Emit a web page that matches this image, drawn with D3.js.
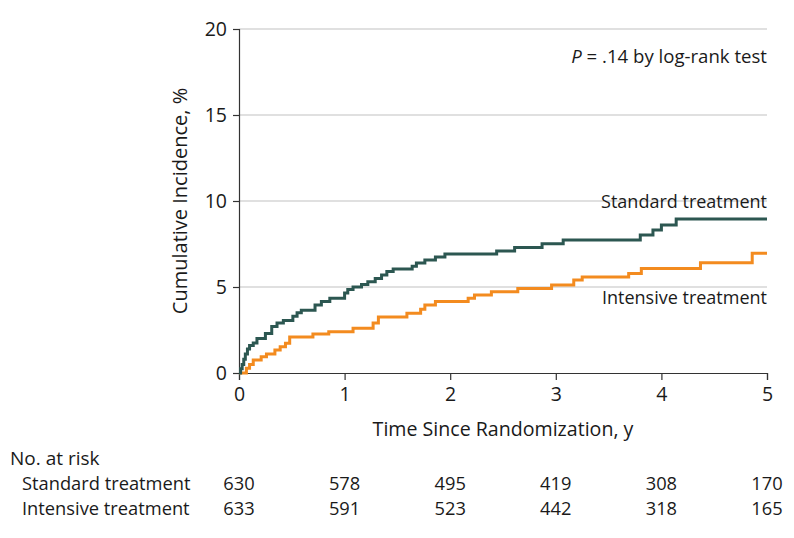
<!DOCTYPE html>
<html>
<head>
<meta charset="utf-8">
<script src="https://cdn.jsdelivr.net/npm/d3@7"></script>
<style>
  body { margin: 0; background: #fff; }
  svg text { font-family: "Open Sans", "Noto Sans", sans-serif; fill: #1a1a1a; }
</style>
</head>
<body>
<script>
// step points (time in years, cumulative incidence %)
const standardTimes = [0, 0.015, 0.03, 0.045, 0.06, 0.08, 0.1, 0.135, 0.17, 0.25, 0.31, 0.36, 0.42, 0.51, 0.55, 0.59, 0.72, 0.78, 0.86, 1.0, 1.03, 1.08, 1.16, 1.22, 1.29, 1.35, 1.40, 1.46, 1.64, 1.68, 1.76, 1.86, 1.95, 2.44, 2.61, 2.87, 3.07, 3.80, 3.92, 4.0, 4.14, 5.0]
const standardValues = [0, 0.25, 0.5, 0.8, 1.1, 1.4, 1.6, 1.75, 2.0, 2.3, 2.7, 2.9, 3.05, 3.3, 3.5, 3.65, 3.95, 4.15, 4.35, 4.65, 4.85, 5.0, 5.15, 5.3, 5.5, 5.7, 5.9, 6.05, 6.2, 6.4, 6.57, 6.75, 6.92, 7.1, 7.3, 7.52, 7.73, 8.02, 8.31, 8.6, 8.95, 8.95]
const intensiveTimes = [0, 0.07, 0.10, 0.135, 0.21, 0.26, 0.34, 0.39, 0.44, 0.48, 0.70, 0.85, 1.08, 1.27, 1.32, 1.59, 1.72, 1.76, 1.86, 2.17, 2.23, 2.39, 2.64, 2.96, 3.17, 3.25, 3.69, 3.81, 4.37, 4.86, 5.0]
const intensiveValues = [0, 0.27, 0.5, 0.76, 0.95, 1.1, 1.34, 1.53, 1.73, 2.1, 2.27, 2.4, 2.6, 2.9, 3.25, 3.47, 3.7, 3.95, 4.15, 4.34, 4.53, 4.73, 4.92, 5.12, 5.41, 5.58, 5.79, 6.08, 6.41, 6.96, 6.96]

const xTicks = [0, 1, 2, 3, 4, 5]
const yTicks = [0, 5, 10, 15, 20]
const standardAtRisk = [630, 578, 495, 419, 308, 170]
const intensiveAtRisk = [633, 591, 523, 442, 318, 165]

const width = 794
const height = 538
const margin = { left: 239, right: 27, top: 29, bottom: 165 }
const fontSize = 18.3

const svg = d3.select("body")
    .append("svg")
    .attr("width", width)
    .attr("height", height)

const x = d3.scaleLinear().domain([0, 5]).range([margin.left, width - margin.right])
const y = d3.scaleLinear().domain([0, 20]).range([height - margin.bottom, margin.top])

// gridlines
svg.append("g")
    .selectAll("line")
    .data(yTicks.filter((d) => d > 0))
    .join("line")
    .attr("x1", x(0))
    .attr("x2", x(5))
    .attr("y1", (d) => y(d))
    .attr("y2", (d) => y(d))
    .attr("stroke", "#d6d6d6")
    .attr("stroke-width", 1.5)

// axes
const xAxis = svg.append("g")
    .attr("transform", `translate(0,${y(0)})`)
    .call(d3.axisBottom(x).tickValues(xTicks).tickSize(7).tickPadding(7).tickFormat(d3.format("d")))
const yAxis = svg.append("g")
    .attr("transform", `translate(${x(0)},0)`)
    .call(d3.axisLeft(y).tickValues(yTicks).tickSize(6).tickPadding(6))

for (const ax of [xAxis, yAxis]) {
    ax.attr("font-family", null).attr("font-size", null)
    ax.select(".domain").attr("stroke", "#333").attr("stroke-width", 1.2)
    ax.selectAll(".tick line").attr("stroke", "#333").attr("stroke-width", 1.2)
    ax.selectAll(".tick text").attr("font-size", 19.5).attr("fill", "#1a1a1a")
}

// step curves
const line = d3.line()
    .x((d) => x(d[0]))
    .y((d) => y(d[1]))
    .curve(d3.curveStepAfter)

const series = [
    { times: intensiveTimes, values: intensiveValues, color: "#f38b1f" },
    { times: standardTimes, values: standardValues, color: "#2c5751" }
]
svg.selectAll("path.km")
    .data(series)
    .join("path")
    .attr("class", "km")
    .attr("d", (d) => line(d.times.map((t, i) => [t, d.values[i]])))
    .attr("fill", "none")
    .attr("stroke", (d) => d.color)
    .attr("stroke-width", 3)

// labels
svg.append("text")
    .attr("x", x(5))
    .attr("y", 208)
    .attr("text-anchor", "end")
    .attr("font-size", 18)
    .text("Standard treatment")
svg.append("text")
    .attr("x", x(5))
    .attr("y", 304)
    .attr("text-anchor", "end")
    .attr("font-size", 18)
    .text("Intensive treatment")

const pText = svg.append("text")
    .attr("x", x(5))
    .attr("y", 63)
    .attr("text-anchor", "end")
    .attr("font-size", 18.6)
pText.append("tspan").attr("font-style", "italic").text("P")
pText.append("tspan").text(" = .14 by log-rank test")

svg.append("text")
    .attr("transform", `translate(187,${y(10)}) rotate(-90)`)
    .attr("text-anchor", "middle")
    .attr("font-size", 20)
    .text("Cumulative Incidence, %")

svg.append("text")
    .attr("x", (x(0) + x(5)) / 2)
    .attr("y", 436)
    .attr("text-anchor", "middle")
    .attr("font-size", 19.6)
    .text("Time Since Randomization, y")

// number at risk table
svg.append("text")
    .attr("x", 10)
    .attr("y", 465)
    .attr("font-size", 19)
    .text("No. at risk")

const rows = [
    { name: "Standard treatment", counts: standardAtRisk, yPos: 490 },
    { name: "Intensive treatment", counts: intensiveAtRisk, yPos: 515 }
]
rows.forEach((row) => {
    svg.append("text")
        .attr("x", 22)
        .attr("y", row.yPos)
        .attr("font-size", fontSize)
        .text(row.name)
    svg.append("g")
        .selectAll("text")
        .data(row.counts)
        .join("text")
        .attr("x", (d, i) => x(xTicks[i]))
        .attr("y", row.yPos)
        .attr("text-anchor", "middle")
        .attr("font-size", fontSize)
        .text((d) => d)
})
</script>
</body>
</html>
